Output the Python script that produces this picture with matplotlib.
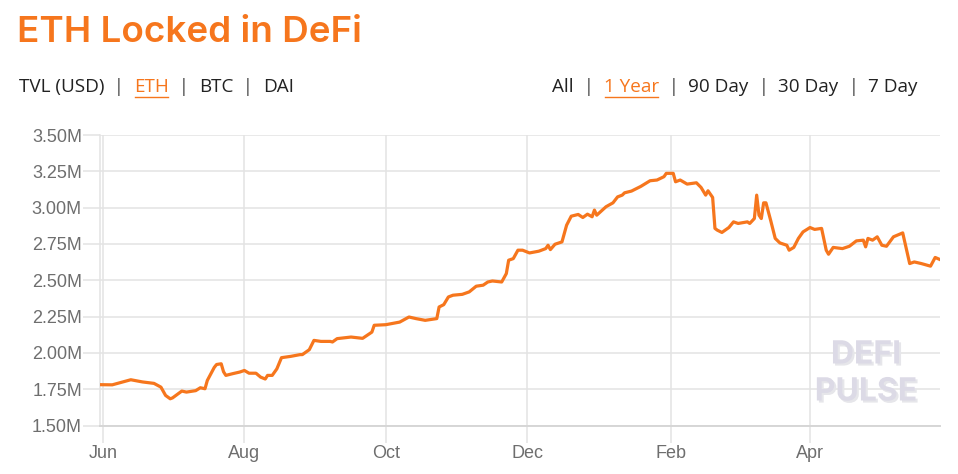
"""
ETH Locked in DeFi - 1 year view
"""
import matplotlib
matplotlib.use('Agg')
import matplotlib.pyplot as plt
import matplotlib.patheffects as pe
import pandas as pd
from datetime import datetime

# ==========================================
# DATA
# ==========================================
DATES = [
    '2019-05-31', '2019-06-05', '2019-06-13', '2019-06-18', '2019-06-23', '2019-06-26',
    '2019-06-28', '2019-06-30', '2019-07-01', '2019-07-05', '2019-07-07', '2019-07-11',
    '2019-07-13', '2019-07-15', '2019-07-16', '2019-07-19', '2019-07-20', '2019-07-22',
    '2019-07-23', '2019-07-24', '2019-07-27', '2019-07-30', '2019-08-01', '2019-08-03',
    '2019-08-06', '2019-08-08', '2019-08-10', '2019-08-11', '2019-08-13', '2019-08-15',
    '2019-08-17', '2019-08-21', '2019-08-25', '2019-08-26', '2019-08-29', '2019-08-31',
    '2019-09-03', '2019-09-07', '2019-09-08', '2019-09-10', '2019-09-16', '2019-09-21',
    '2019-09-25', '2019-09-26', '2019-10-01', '2019-10-07', '2019-10-11', '2019-10-14',
    '2019-10-18', '2019-10-23', '2019-10-24', '2019-10-26', '2019-10-28', '2019-10-30',
    '2019-11-03', '2019-11-06', '2019-11-09', '2019-11-12', '2019-11-14', '2019-11-16',
    '2019-11-20', '2019-11-22', '2019-11-23', '2019-11-25', '2019-11-27', '2019-11-29',
    '2019-12-02', '2019-12-06', '2019-12-09', '2019-12-10', '2019-12-11', '2019-12-13',
    '2019-12-16', '2019-12-18', '2019-12-20', '2019-12-23', '2019-12-25', '2019-12-27',
    '2019-12-29', '2019-12-30', '2019-12-31', '2020-01-04', '2020-01-07', '2020-01-09',
    '2020-01-11', '2020-01-12', '2020-01-15', '2020-01-19', '2020-01-23', '2020-01-26',
    '2020-01-29', '2020-01-30', '2020-02-02', '2020-02-03', '2020-02-05', '2020-02-08',
    '2020-02-12', '2020-02-14', '2020-02-16', '2020-02-17', '2020-02-19', '2020-02-20',
    '2020-02-21', '2020-02-23', '2020-02-26', '2020-02-28', '2020-03-01', '2020-03-05',
    '2020-03-06', '2020-03-08', '2020-03-09', '2020-03-10', '2020-03-11', '2020-03-12',
    '2020-03-13', '2020-03-15', '2020-03-17', '2020-03-19', '2020-03-22', '2020-03-23',
    '2020-03-25', '2020-03-27', '2020-03-29', '2020-04-01', '2020-04-03', '2020-04-06',
    '2020-04-08', '2020-04-09', '2020-04-11', '2020-04-15', '2020-04-18', '2020-04-21',
    '2020-04-24', '2020-04-25', '2020-04-26', '2020-04-28', '2020-04-30', '2020-05-02',
    '2020-05-04', '2020-05-07', '2020-05-11', '2020-05-14', '2020-05-16', '2020-05-19',
    '2020-05-23', '2020-05-25', '2020-05-27',
]
ETH_LOCKED = [
    1.781, 1.780, 1.815, 1.800, 1.790, 1.764,
    1.707, 1.684, 1.690, 1.737, 1.730, 1.740,
    1.760, 1.753, 1.810, 1.900, 1.920, 1.925,
    1.870, 1.845, 1.857, 1.868, 1.879, 1.860,
    1.860, 1.833, 1.820, 1.845, 1.845, 1.890,
    1.967, 1.976, 1.988, 1.988, 2.022, 2.086,
    2.079, 2.079, 2.075, 2.098, 2.109, 2.100,
    2.143, 2.190, 2.194, 2.212, 2.247, 2.236,
    2.224, 2.236, 2.316, 2.332, 2.385, 2.397,
    2.403, 2.420, 2.459, 2.466, 2.488, 2.495,
    2.488, 2.546, 2.638, 2.649, 2.707, 2.707,
    2.688, 2.700, 2.718, 2.741, 2.711, 2.748,
    2.764, 2.879, 2.941, 2.953, 2.932, 2.955,
    2.937, 2.983, 2.948, 3.006, 3.033, 3.074,
    3.086, 3.102, 3.114, 3.146, 3.185, 3.190,
    3.213, 3.236, 3.236, 3.178, 3.190, 3.162,
    3.171, 3.139, 3.086, 3.116, 3.070, 2.857,
    2.845, 2.829, 2.863, 2.902, 2.891, 2.902,
    2.891, 2.925, 3.086, 2.948, 2.925, 3.033,
    3.033, 2.914, 2.788, 2.757, 2.741, 2.707,
    2.726, 2.788, 2.833, 2.863, 2.850, 2.857,
    2.707, 2.679, 2.726, 2.718, 2.734, 2.771,
    2.776, 2.730, 2.788, 2.776, 2.799, 2.741,
    2.734, 2.799, 2.826, 2.615, 2.626, 2.615,
    2.597, 2.657, 2.643,
]
Y_TICKS = [1.50, 1.75, 2.00, 2.25, 2.50, 2.75, 3.00, 3.25, 3.50]
X_TICK_DATES = ['2019-06-01', '2019-08-01', '2019-10-01', '2019-12-01', '2020-02-01', '2020-04-01']
X_TICK_LABELS = ['Jun', 'Aug', 'Oct', 'Dec', 'Feb', 'Apr']
LEFT_TABS = ['TVL (USD)', 'ETH', 'BTC', 'DAI']
RIGHT_TABS = ['All', '1 Year', '90 Day', '30 Day', '7 Day']

# ==========================================
# STYLE
# ==========================================
ORANGE = '#f6761d'
GRID = '#e3e3e3'
TICK_TEXT = '#6e6e6e'
TAB_TEXT = '#222222'
PIPE = '#444444'

plt.rcParams['font.family'] = ['Liberation Sans', 'DejaVu Sans']

fig = plt.figure(figsize=(9.58, 4.74), dpi=100)
W, H = 958, 474

# title
fig.text(17 / W, 1 - 33 / H, 'ETH Locked in DeFi', color=ORANGE, fontsize=26.5,
         fontweight='semibold', family=['Inter', 'DejaVu Sans'], va='center', ha='left')


def draw_tabs(x_start, y_px, labels, active, align='left'):
    """Lay out 'a | b | c' style tabs, active one orange + underlined."""
    renderer = fig.canvas.get_renderer()
    parts = []
    for i, lab in enumerate(labels):
        if i > 0:
            parts.append(('  |  ', PIPE, False))
        parts.append((lab, ORANGE if lab == active else TAB_TEXT, lab == active))
    texts = []
    x = x_start
    for s, c, ul in parts:
        t = fig.text(x / W, 1 - y_px / H, s, color=c, fontsize=13.6,
                     family=['Open Sans', 'DejaVu Sans'], va='center', ha='left')
        bb = t.get_window_extent(renderer)
        texts.append((t, ul, c))
        x += bb.width
    if align == 'right':
        shift = x - x_start
        for t, ul, c in texts:
            px, py = t.get_position()
            t.set_position((px - shift / W, py))
    for t, ul, c in texts:
        if ul:
            bb = t.get_window_extent(renderer)
            y_line = 1 - 97 / H
            fig.add_artist(plt.Line2D([(bb.x0 + 1) / W, (bb.x1 - 1) / W], [y_line, y_line],
                                      color=c, lw=1.0, transform=fig.transFigure))


draw_tabs(19, 87, LEFT_TABS, 'ETH')
draw_tabs(918, 87, RIGHT_TABS, '1 Year', align='right')

# ==========================================
# CHART
# ==========================================
ax = fig.add_axes([100 / W, 1 - 425.5 / H, 840 / W, 290.5 / H])

dates = pd.to_datetime(DATES)
ax.plot(dates, ETH_LOCKED, color=ORANGE, lw=2.3, solid_joinstyle='round', zorder=3)

ax.set_ylim(Y_TICKS[0], Y_TICKS[-1])
ax.set_xlim(datetime(2019, 5, 30, 17), datetime(2020, 5, 27, 2))

ax.set_yticks(Y_TICKS)
ax.set_yticklabels([f'{v:.2f}M' for v in Y_TICKS])
ax.set_xticks(pd.to_datetime(X_TICK_DATES))
ax.set_xticklabels(X_TICK_LABELS)

ax.grid(True, color=GRID, lw=1.1, zorder=0)
ax.tick_params(axis='both', length=12, width=1.1, color=GRID, labelcolor=TICK_TEXT,
               labelsize=13, pad=1)
ax.tick_params(axis='x', pad=2)

for side in ['top', 'right']:
    ax.spines[side].set_visible(False)
ax.spines['left'].set_color(GRID)
ax.spines['left'].set_linewidth(1.1)
ax.spines['bottom'].set_color('#d6d6d6')
ax.spines['bottom'].set_linewidth(1.4)

# watermark
shadow = [pe.withSimplePatchShadow(offset=(1.5, -1.5), shadow_rgbFace='#e6e6ea', alpha=1.0)]
for label, ypx in [('DEFI', 355), ('PULSE', 392)]:
    fig.text(866 / W, 1 - ypx / H, label, color='#dcdae6', fontsize=23, fontweight='bold',
             family=['Inter', 'DejaVu Sans'], ha='center', va='center',
             path_effects=shadow, zorder=1)

plt.savefig('out.png', dpi=100)
